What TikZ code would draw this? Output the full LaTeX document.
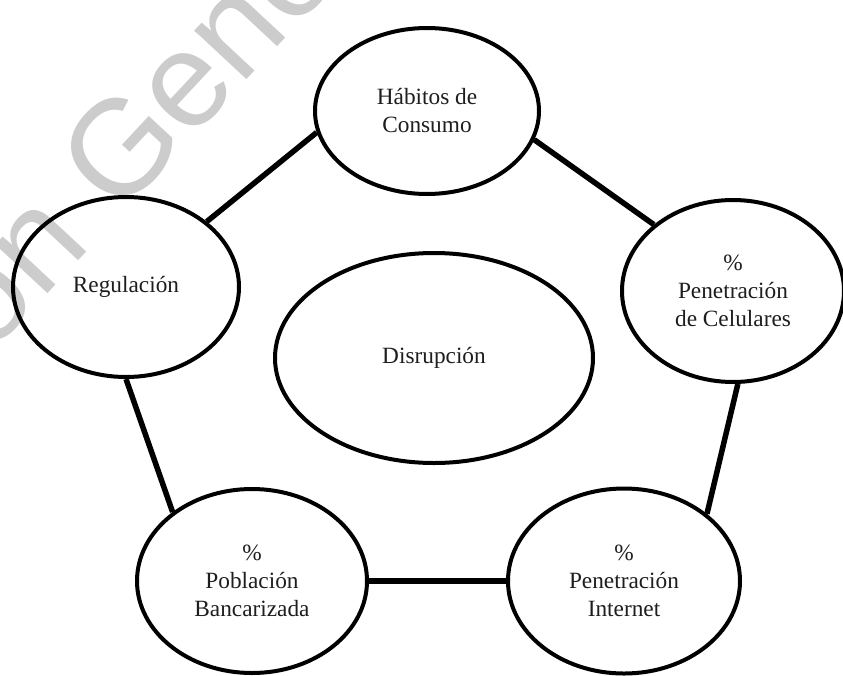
\documentclass[tikz,border=0pt]{standalone}
\usepackage{fontspec}
\setmainfont{Liberation Serif}
\newfontfamily\wmfont{Liberation Sans}
\usetikzlibrary{shapes.geometric,calc}
\definecolor{wmgray}{RGB}{204,204,204}
\definecolor{ink}{RGB}{30,30,30}
\begin{document}
\begin{tikzpicture}[x=1pt,y=-1pt,
  topic/.style={ellipse, draw=black, line width=4pt, inner sep=0pt, align=center,
                font=\fontsize{23.3}{28}\selectfont, text=ink},
  link/.style={line width=5.5pt},
  wm/.style={font=\wmfont\fontsize{135}{135}\selectfont, text=wmgray, inner sep=0pt, rotate=47}]
\fill[white] (0,0) rectangle (843,675);
\useasboundingbox (0,0) rectangle (843,675);

% faint watermark across the upper left
\begin{scope}
  \clip (0,0) rectangle (843,675);
  \node[wm, anchor=base west] (wmb) at (118,218) {Generada};
  \node[wm, anchor=base east] (wma) at ($(wmb.base west)!-37.5pt!(wmb.base east)$) {Versión};
\end{scope}

% topics
\node[topic, minimum width=224pt, minimum height=166pt] (hab) at (427,111) {Hábitos de\\Consumo};
\node[topic, minimum width=226pt, minimum height=180pt] (reg) at (126,287) {Regulación};
\node[topic, minimum width=222pt, minimum height=182pt] (cel) at (733,291) {\%\\Penetración\\de Celulares};
\node[topic, minimum width=318pt, minimum height=210pt] (dis) at (434,358) {Disrupción};
\node[topic, minimum width=230pt, minimum height=184pt] (pob) at (252,581) {\%\\Población\\Bancarizada};
\node[topic, minimum width=232pt, minimum height=185pt] (int) at (624,581) {\%\\Penetración\\Internet};

% ring of connectors
\draw[link] (reg.39) -- (hab.191);
\draw[link] (hab.-15) -- (cel.140);
\draw[link] (cel.-87.5) -- (int.39);
\draw[link] (int.180) -- (pob.0);
\draw[link] (pob.139) -- (reg.-90);
\end{tikzpicture}
\end{document}
